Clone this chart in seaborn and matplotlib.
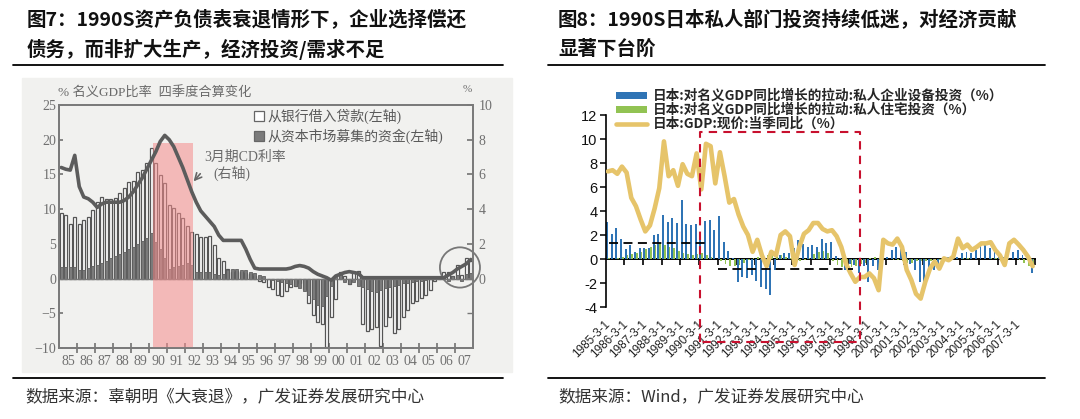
import matplotlib
matplotlib.use('Agg')
import matplotlib.pyplot as plt
import seaborn as sns
import pandas as pd
from matplotlib.patches import Rectangle, Ellipse, Patch
from matplotlib.lines import Line2D

# ---------------- data: left chart (quarterly 1985Q1-2007Q4) ----------------
year_labels_left = ['85', '86', '87', '88', '89', '90', '91', '92', '93', '94', '95', '96',
                    '97', '98', '99', '00', '01', '02', '03', '04', '05', '06', '07']
bank_loans = [9.4, 9.1, 7.8, 8.9, 7.9, 8.4, 8.9, 9.9, 11.1, 11.8, 11.4, 11.5, 11.6, 12.3, 13.0,
              13.9, 14.0, 15.4, 15.6, 16.7, 18.8,
              16.7, 14.9, 13.7, 10.6, 10.1, 9.4, 8.7, 7.5, 6.7, 6.4, 6.0, 6.0, 6.2, 4.8, 2.9,
              2.6, 1.4, 1.0, 1.1, 1.0, 0.8, 0.6, 0.4,
              -0.3, -0.5, -1.2, -1.5, -2.3, -2.5, -1.8, -1.2, -1.0, -0.6, -1.5, -3.5, -5.2,
              -6.3, -6.5, -9.8, -5.5, -3.0, 1.0, 0.4, -0.8, 0.9, 1.1, -6.5, -7.5, -7.3, -7.0,
              -9.7, -6.8, -5.5, -7.8, -7.2, -5.5, -4.5, -3.5, -3.2, -2.8, -2.3, -1.6, -0.4,
              0.1, 1.0, 0.9, 0.3, 2.0, 0.5, 2.9, 2.5]
capital_mkt = [1.7, 1.7, 1.6, 1.7, 1.2, 1.3, 1.5, 1.8, 2.0, 2.3, 2.6, 2.9, 3.2, 3.5, 3.8, 4.2,
               4.6, 5.0, 5.4, 5.8, 6.5, 5.3, 4.3, 2.9, 1.4, 1.7, 1.8, 1.9, 2.2, 1.9, 1.0, 1.0,
               1.0, 1.0, 0.7, 0.5, 0.7, 1.2, 1.4, 1.4, 1.2, 1.2, 1.0, 0.8,
               0.5, 0.3, 0.0, -0.2, -0.3, -0.5, -0.6, -0.8, -1.0, -1.4, -1.8, -2.4,
               -3.0, -3.8, -4.0, -2.5, -1.0, 0.3, 0.5, -0.5, -0.8, -0.5, -1.0, -1.2,
               -1.5, -1.8, -2.0, -1.6, -1.4, -1.2, -1.0, -0.9, -0.7, -0.6, -0.5, -0.4,
               -0.3, -0.2, -0.1, 0.0, 0.3, 0.2, -0.3, 0.3, 0.5, -0.3, 0.6, 0.8]
cd_rate = [6.4, 6.3, 6.25, 7.1, 5.3, 4.7, 4.6, 4.4, 4.1, 4.3, 4.4, 4.4, 4.4, 4.4, 4.5, 4.7,
           5.0, 5.4, 5.8, 6.3, 6.8, 7.3, 7.9, 8.25, 8.0, 7.6, 7.0, 6.4, 5.7, 5.0, 4.4, 3.9,
           3.6, 3.3, 3.0, 2.5, 2.2, 2.2, 2.2, 2.2, 2.2, 1.7, 1.1, 0.6,
           0.55, 0.55, 0.55, 0.55, 0.55, 0.55, 0.55, 0.6, 0.7, 0.75, 0.7, 0.6,
           0.4, 0.25, 0.15, 0.05, -0.1, 0.15, 0.25, 0.35, 0.4, 0.35, 0.3,
           0.05, 0.05, 0.05, 0.05, 0.05, 0.05, 0.05, 0.05, 0.05, 0.05, 0.05, 0.05, 0.05,
           0.05, 0.05, 0.05, 0.05, 0.05, 0.05,
           0.2, 0.35, 0.55, 0.7, 0.85, 1.1]

# ---------------- data: right chart (quarterly 1985Q1-2007Q4) ----------------
date_labels = [f'{y}-3-1' for y in range(1985, 2008)]
equip_inv = [3.1, 2.1, 2.55, 1.7, 0.8, 1.2, 0.6, 0.9, 0.95, 0.9, 2.0, 2.1, 3.7, 3.1, 3.4, 3.0,
             4.9, 2.9, 2.8, 2.9, 1.7, 3.2, 3.25, 2.4, 3.6, 1.4, 0.7, 0.1,
             -1.9, -1.5, -1.6, -1.3, -1.8, -2.3, -2.5, -3.0,
             -0.9, 0.3, 0.5, 0.5, 0.9, 1.6, 1.25, 1.0, 1.15,
             1.0, 1.7, 1.3, 1.4, 0.25, 0.1, -0.9, -0.4, -0.5, -1.2, -0.6, -1.9, -0.6, -0.9,
             -0.5, 0.2, 0.75, 1.0, 1.0, 0.6, -0.4, -0.9, -1.9, -2.3, -1.2, -0.9, -0.4, -0.1,
             0.2, 0.05, 0.2, 0.5, 0.6, 0.5, 0.75, 1.3, 1.4, 0.9, 0.6, 0.5, 0.2, 0.05, 0.6,
             0.75, 0.3, 0.05, -1.2]
housing_inv = [0.1, 0.0, 0.1, 0.2, 0.3, 0.4, 0.5, 0.6, 0.8, 1.0, 1.2, 1.3, 1.2, 1.0, 0.9, 0.7,
               0.5, 0.4, 0.3, 0.4, 0.5, 0.3, 0.2, 0.0, -0.2, -0.4, -0.6, -0.6, -0.5, -0.3,
               -0.1, 0.1, 0.2, 0.3, 0.3, 0.4, 0.4, 0.3, 0.2, 0.1, -0.1, -0.2, -0.1, 0.1,
               0.4, 0.6, 0.7, 0.5, -0.2, -0.5, -0.7, -0.8, -0.7, -0.6, -0.4, -0.3,
               0.1, 0.2, 0.1, 0.0, 0.0, -0.1, -0.1, -0.2, -0.3, -0.3, -0.2, -0.2,
               -0.2, -0.2, -0.1, -0.1, 0.0, 0.0, 0.0, 0.0, 0.1, 0.1, 0.0, 0.0,
               0.0, 0.0, 0.1, 0.1, 0.0, 0.0, 0.0, 0.0, -0.1, -0.3, -0.6, -0.5]
gdp_yoy = [7.3, 7.4, 7.1, 7.7, 7.2, 5.1, 4.4, 3.3, 2.3, 2.8, 4.2, 5.9, 9.8, 6.9, 7.4, 6.1,
           7.9, 7.1, 6.9, 8.8, 5.8, 9.6, 9.4, 6.3, 8.9, 6.9, 4.7, 5.0, 3.7, 2.7, 2.0, 0.6,
           1.6, 0.3, -0.6, 0.6, 0.3, 2.0, 2.3, 1.9, -0.5, 1.0, 2.1, 2.4, 3.0, 3.0,
           2.5, 2.3, 2.4, 1.9, 1.0, -0.4, -1.2, -1.9, -1.5, -1.5, -1.2, -1.6, -2.6, 1.6,
           1.3, 1.2, 1.7, 1.0, -0.9, -1.75, -2.9, -3.3, -1.9, -0.8, -0.2, -0.8, 0.05, -0.1,
           0.2, 1.7, 0.9, 1.2, 0.75, 1.0, 1.3, 1.3, 1.4, 0.75, 0.3, -0.5, 1.3, 1.6, 1.2,
           0.75, 0.2, -0.6]
avg_1985_1990 = 1.3
avg_1991_1998 = -0.85

W, H = 1080, 419
sns.set_theme(style='white')
plt.rcParams['font.family'] = ['Noto Sans CJK SC', 'DejaVu Sans']
plt.rcParams['axes.unicode_minus'] = False
SERIF = ['Liberation Serif', 'Noto Sans CJK SC']
ARIAL = ['Liberation Sans', 'Noto Sans CJK SC']


def fx(x):
    return x / W


def fy(y):
    return 1 - y / H


fig = plt.figure(figsize=(W / 100, H / 100), dpi=100)
fig.patch.set_facecolor('white')

# titles, rules and sources
fig.text(fx(27), fy(19), '图7：1990S资产负债表衰退情形下，企业选择偿还', fontsize=14,
         fontweight='bold', va='center', color='#111111')
fig.text(fx(27), fy(49), '债务，而非扩大生产，经济投资/需求不足', fontsize=14,
         fontweight='bold', va='center', color='#111111')
fig.text(fx(558), fy(19), '图8：1990S日本私人部门投资持续低迷，对经济贡献', fontsize=14,
         fontweight='bold', va='center', color='#111111')
fig.text(fx(558), fy(49), '显著下台阶', fontsize=14, fontweight='bold', va='center',
         color='#111111')
for x0, x1 in [(13, 503), (548, 1045)]:
    fig.add_artist(Line2D([fx(x0), fx(x1)], [fy(65), fy(65)], color='black', lw=1.3))
    fig.add_artist(Line2D([fx(x0), fx(x1)], [fy(378), fy(378)], color='black', lw=1.3))
fig.text(fx(25), fy(397), '数据来源：辜朝明《大衰退》，广发证券发展研究中心', fontsize=12,
         va='center', color='#333333')
fig.text(fx(558), fy(397), '数据来源：Wind，广发证券发展研究中心', fontsize=12,
         va='center', color='#333333')

# ---------------- left chart ----------------
fig.patches.append(Rectangle((fx(22), fy(372)), fx(512) - fx(22), fy(78) - fy(372),
                             transform=fig.transFigure, color='#f1f1ef', zorder=-1))
axL = fig.add_axes([fx(59), fy(348), fx(473) - fx(59), fy(105) - fy(348)])
axL.set_facecolor('none')
q = list(range(len(bank_loans)))
dfL = pd.DataFrame({'q': q, 'bank': bank_loans, 'capital': capital_mkt, 'cd': cd_rate})
sns.barplot(data=dfL, x='q', y='bank', native_scale=True, color='white', saturation=1,
            edgecolor='#555555', linewidth=0.9, width=0.72, errorbar=None, ax=axL)
sns.barplot(data=dfL, x='q', y='capital', native_scale=True, color='#7b7b7b', saturation=1,
            edgecolor='#5e5e5e', linewidth=0.6, width=0.72, errorbar=None, ax=axL)
axL.axhline(0, color='#777777', lw=1.0, zorder=2)
axL.set_xlim(-0.5, 91.5)
axL.set_ylim(-10, 25)
axL.axvspan(20.3, 29.3, ymin=0, ymax=(19.5 + 10) / 35, color='#f58c8c', alpha=0.55, lw=0,
            zorder=3)
axL.add_patch(Ellipse((88.6, 1.6), width=8.9, height=5.8, fill=False, ec='#777777', lw=1.3,
                      clip_on=False, zorder=5))

axL2 = axL.twinx()
axL2.set_facecolor('none')
sns.lineplot(data=dfL, x='q', y='cd', ax=axL2, color='#5c5c5c', linewidth=2.6)
axL2.set_ylim(-4, 10)
axL2.set_xlim(-0.5, 91.5)

axL.set_yticks([-10, -5, 0, 5, 10, 15, 20, 25])
axL.set_yticklabels(['−10', '−5', '0', '5', '10', '15', '20', '25'], family=SERIF,
                    fontsize=10, color='#707070')
axL.set_xticks([4 * k - 0.5 for k in range(1, 23)])
axL.set_xticklabels([])
axL.set_xticks([4 * k + 1.5 for k in range(23)], minor=True)
axL.set_xticklabels(year_labels_left, minor=True, family=SERIF, fontsize=10, color='#707070')
axL.tick_params(axis='y', direction='in', length=3, color='#777777', pad=2, left=True)
axL.tick_params(axis='x', which='major', direction='inout', length=7, color='#777777',
                bottom=True)
axL.tick_params(axis='x', which='minor', length=0, pad=5, bottom=True)
axL2.set_yticks([0, 2, 4, 6, 8, 10])
axL2.set_yticklabels(['0', '2', '4', '6', '8', '10'], family=SERIF, fontsize=10,
                     color='#707070')
axL2.set_yticks([-2], minor=True)
axL2.tick_params(axis='y', which='both', direction='in', length=4, color='#777777', pad=4,
                 right=True)
axL.set_xlabel('')
axL.set_ylabel('')
axL2.set_ylabel('')
for ax in (axL, axL2):
    for s in ax.spines.values():
        s.set_color('#7a7a7a')
        s.set_linewidth(1.3)

fig.text(fx(58), fy(93), '% 名义GDP比率  四季度合算变化', fontsize=9.5, family=SERIF,
         color='#6a6a6a', va='center')
fig.text(fx(467), fy(90), '%', fontsize=8, family=SERIF, color='#707070', va='center',
         ha='center')
legL = axL.legend(handles=[Patch(facecolor='white', edgecolor='#666666', lw=0.9),
                           Patch(facecolor='#7b7b7b', edgecolor='#666666', lw=0.9)],
                  labels=['从银行借入贷款(左轴)', '从资本市场募集的资金(左轴)'],
                  loc='upper left', bbox_to_anchor=(fx(254), fy(109)),
                  bbox_transform=fig.transFigure, frameon=False, fontsize=10,
                  handlelength=0.7, handleheight=0.7, handletextpad=0.3, labelspacing=0.3,
                  borderpad=0, borderaxespad=0)
for t in legL.get_texts():
    t.set_color('#5a5a5a')
    t.set_family(SERIF)
fig.text(fx(245), fy(157), '3月期CD利率', fontsize=10, family=SERIF, color='#6a6a6a',
         ha='center', va='center')
fig.text(fx(232), fy(173), '(右轴)', fontsize=10, family=SERIF, color='#6a6a6a',
         ha='center', va='center')
axL.annotate('', xy=(29.0, 13.7), xytext=(31.3, 15.4),
             arrowprops=dict(arrowstyle='->', color='#666666', lw=1.2))

# ---------------- right chart ----------------
axR = fig.add_axes([fx(605.6), fy(307), fx(1035) - fx(605.6), fy(115) - fy(307)])
n = len(gdp_yoy)
dfR = pd.DataFrame({
    'q': list(range(n)) * 2,
    'value': equip_inv + housing_inv,
    'series': ['equip'] * n + ['housing'] * n,
})
BLUE, GREEN, GOLD = '#2f74b5', '#92c353', '#e6c46a'
sns.barplot(data=dfR, x='q', y='value', hue='series', hue_order=['equip', 'housing'],
            palette=[BLUE, GREEN], native_scale=True, width=0.78, saturation=1,
            errorbar=None, linewidth=0, legend=False, ax=axR)
sns.lineplot(x=list(range(n)), y=gdp_yoy, ax=axR, color=GOLD, linewidth=3.3, zorder=4)
axR.hlines(avg_1985_1990, 0.3, 21.4, colors='black', linestyles=(0, (5, 3)), lw=1.3,
           zorder=5)
axR.hlines(avg_1991_1998, 23.5, 52.5, colors='black', linestyles=(0, (5, 3)), lw=1.3,
           zorder=5)
axR.plot([19.8, 19.8, 54, 54, 19.8], [-6.9, 10.6, 10.6, -6.9, -6.9], color='#c8102e',
         lw=1.5, ls=(0, (4, 3)), clip_on=False, zorder=6)
axR.set_xlim(-0.5, 91.5)
axR.set_ylim(-4, 12)
axR.set_yticks(range(-4, 13, 2))
axR.set_yticklabels([str(v) for v in range(-4, 13, 2)], family=ARIAL, fontsize=10.5,
                    color='#111111')
axR.set_xticks(range(0, n, 4))
axR.set_xticklabels(date_labels, rotation=45, ha='right', va='center',
                    rotation_mode='anchor', family=ARIAL, fontsize=8.5, color='#222222')
axR.tick_params(axis='x', length=0, pad=11, bottom=True)
axR.tick_params(axis='y', direction='out', length=4, width=1.1, color='black', pad=2,
                left=True)
axR.set_xlabel('')
axR.set_ylabel('')
for side in ('top', 'right', 'bottom'):
    axR.spines[side].set_visible(False)
axR.spines['left'].set_color('black')
axR.spines['left'].set_linewidth(1.2)
sec = axR.secondary_xaxis(0.25)
sec.set_xticks([4 * k - 0.5 for k in range(1, 24)])
sec.set_xticklabels([])
sec.tick_params(direction='out', length=4, width=1.2, color='black')
sec.spines['bottom'].set_color('black')
sec.spines['bottom'].set_linewidth(1.4)

legR = fig.legend(handles=[Patch(facecolor=BLUE, lw=0), Patch(facecolor=GREEN, lw=0),
                           Line2D([], [], color=GOLD, lw=3.3)],
                  labels=['日本:对名义GDP同比增长的拉动:私人企业设备投资（%）',
                          '日本:对名义GDP同比增长的拉动:私人住宅投资（%）',
                          '日本:GDP:现价:当季同比（%）'],
                  loc='upper left', bbox_to_anchor=(fx(616), fy(89)), frameon=False,
                  prop=dict(family=['Noto Sans CJK SC'], weight='bold', size=9.8),
                  handlelength=2.3, handleheight=0.4, handletextpad=0.4, labelspacing=0.0,
                  borderpad=0, borderaxespad=0)

fig.savefig('out.png', dpi=100, facecolor='white')
